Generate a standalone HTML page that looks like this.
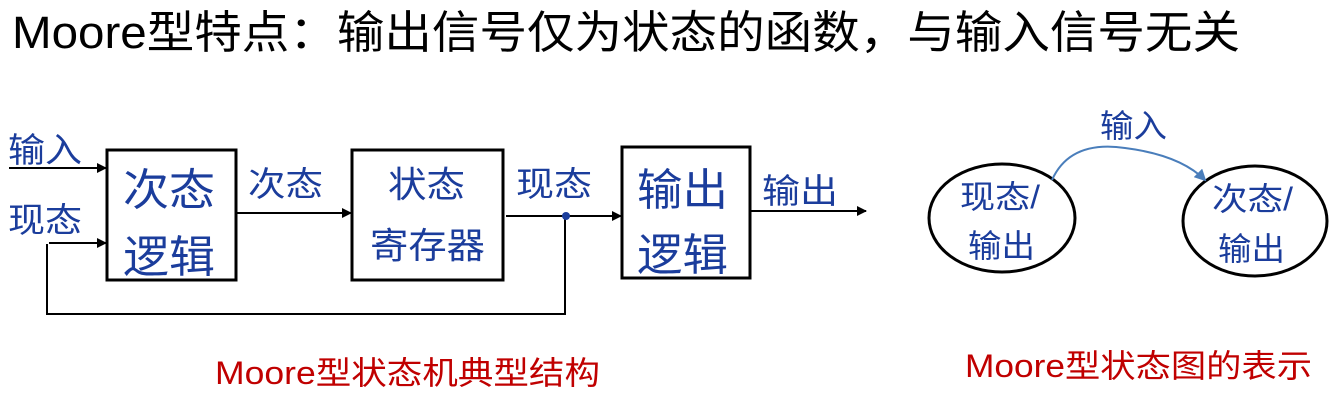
<!DOCTYPE html>
<html><head><meta charset="utf-8"><style>
html,body{margin:0;padding:0;background:#fff;}
svg{display:block;}
text{font-family:"Liberation Sans","Noto Sans CJK SC",sans-serif;}
.b{fill:#1b3d9c;}
.r{fill:#c00000;}
</style></head><body>
<svg width="1340" height="400" viewBox="0 0 1340 400" xmlns="http://www.w3.org/2000/svg">
<defs>
<marker id="a" markerWidth="10" markerHeight="10" refX="9" refY="5" orient="auto" markerUnits="userSpaceOnUse"><path d="M0,0 L10,5 L0,10 z" fill="#000"/></marker>
<marker id="ab" markerWidth="12" markerHeight="12" refX="10" refY="6" orient="auto" markerUnits="userSpaceOnUse"><path d="M0,0 L12,6 L0,12 z" fill="#4a7ebb"/></marker>
</defs>
<text x="12" y="48" font-size="45" fill="#000" textLength="1228" lengthAdjust="spacingAndGlyphs">Moore型特点：输出信号仅为状态的函数，与输入信号无关</text>

<g stroke="#000" stroke-width="3" fill="none">
<rect x="107" y="150" width="129" height="130"/>
<rect x="352" y="150" width="151" height="130"/>
<rect x="622" y="147" width="128" height="131"/>
</g>
<g stroke="#000" stroke-width="2" fill="none">
<line x1="9" y1="168" x2="106" y2="168" marker-end="url(#a)"/>
<line x1="49" y1="243" x2="106" y2="243" marker-end="url(#a)"/>
<polyline points="47,244 47,314 565,314 565,216"/>
<line x1="236" y1="213" x2="351" y2="213" marker-end="url(#a)"/>
<line x1="506" y1="216" x2="621" y2="216" marker-end="url(#a)"/>
<line x1="750" y1="211" x2="866" y2="211" marker-end="url(#a)"/>
</g>
<circle cx="566" cy="216" r="4" fill="#1b3d9c"/>

<g class="b">
<text x="8" y="162" font-size="34" textLength="74" lengthAdjust="spacingAndGlyphs">输入</text>
<text x="8" y="232" font-size="34" textLength="74" lengthAdjust="spacingAndGlyphs">现态</text>
<text x="123" y="205" font-size="44" textLength="92" lengthAdjust="spacingAndGlyphs">次态</text>
<text x="123" y="272" font-size="44" textLength="92" lengthAdjust="spacingAndGlyphs">逻辑</text>
<text x="248" y="196" font-size="34" textLength="75" lengthAdjust="spacingAndGlyphs">次态</text>
<text x="388" y="197" font-size="36" textLength="77" lengthAdjust="spacingAndGlyphs">状态</text>
<text x="370" y="258" font-size="36" textLength="115" lengthAdjust="spacingAndGlyphs">寄存器</text>
<text x="516" y="196" font-size="34" textLength="76" lengthAdjust="spacingAndGlyphs">现态</text>
<text x="637" y="205" font-size="44" textLength="91" lengthAdjust="spacingAndGlyphs">输出</text>
<text x="637" y="270" font-size="44" textLength="91" lengthAdjust="spacingAndGlyphs">逻辑</text>
<text x="762" y="203" font-size="34" textLength="76" lengthAdjust="spacingAndGlyphs">输出</text>
</g>

<ellipse cx="1002" cy="218" rx="73" ry="54" fill="none" stroke="#000" stroke-width="3"/>
<ellipse cx="1255" cy="221" rx="72" ry="55" fill="none" stroke="#000" stroke-width="3"/>
<path d="M1052,180 Q1070,140 1125,148 Q1180,155 1205,180" fill="none" stroke="#4a7ebb" stroke-width="2" marker-end="url(#ab)"/>
<g class="b">
<text x="1100" y="137" font-size="32" textLength="67" lengthAdjust="spacingAndGlyphs">输入</text>
<text x="960" y="208" font-size="32" textLength="80" lengthAdjust="spacingAndGlyphs">现态/</text>
<text x="968" y="257" font-size="32" textLength="67" lengthAdjust="spacingAndGlyphs">输出</text>
<text x="1212" y="210" font-size="32" textLength="81" lengthAdjust="spacingAndGlyphs">次态/</text>
<text x="1218" y="260" font-size="32" textLength="67" lengthAdjust="spacingAndGlyphs">输出</text>
</g>

<text class="r" x="215" y="384" font-size="32" textLength="385" lengthAdjust="spacingAndGlyphs">Moore型状态机典型结构</text>
<text class="r" x="965" y="377" font-size="32" textLength="347" lengthAdjust="spacingAndGlyphs">Moore型状态图的表示</text>
</svg>
</body></html>
